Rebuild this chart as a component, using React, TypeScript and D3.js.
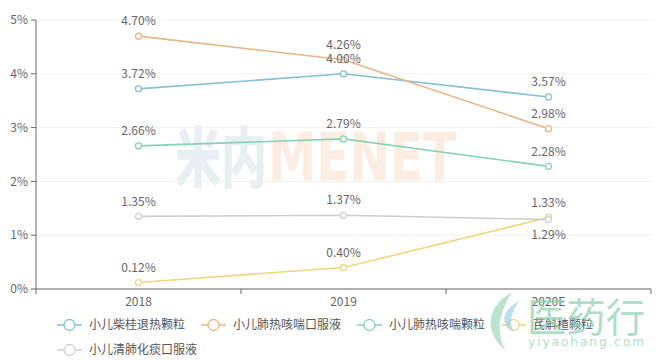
import React from "react";
import * as d3 from "d3";

const categories = ["2018", "2019", "2020E"];
const seriesNames = ["小儿柴桂退热颗粒", "小儿肺热咳喘口服液", "小儿肺热咳喘颗粒", "芪斛楂颗粒", "小儿清肺化痰口服液"];
const chaigui = [3.72, 4.0, 3.57];
const feireKoufu = [4.7, 4.26, 2.98];
const feireKeli = [2.66, 2.79, 2.28];
const qihuzha = [0.12, 0.4, 1.33];
const qingfei = [1.35, 1.37, 1.29];
const yTicks = [0, 1, 2, 3, 4, 5];

const colors = ["#86bfd8", "#e9b486", "#86d2b5", "#f0d67e", "#cfcfcf"];
// label placement: -1 above, 1 below (per point)
const labelPos = [
  [-1, -1, -1],
  [-1, -1, -1],
  [-1, -1, -1],
  [-1, -1, -1],
  [-1, -1, 1],
];

const W = 662;
const H = 360;
const FONT = "'Noto Sans CJK SC', 'Microsoft YaHei', sans-serif";

export default function App() {
  const allSeries = [chaigui, feireKoufu, feireKeli, qihuzha, qingfei];
  const left = 36;
  const right = 651;
  const top = 20;
  const bottom = 289;
  const x = d3.scaleBand<string>().domain(categories).range([left, right]);
  const y = d3.scaleLinear().domain([0, 5]).range([bottom, top]);
  const cx = (c: string) => (x(c) as number) + x.bandwidth() / 2;
  const line = d3
    .line<number>()
    .x((_, i) => cx(categories[i]))
    .y((d) => y(d));
  const boundaries = [left, ...categories.map((c) => (x(c) as number) + x.bandwidth())];

  // legend layout
  const legendRows = [
    [0, 1, 2, 3],
    [4],
  ];
  const legendStart = [57, 57];
  const charW = 12;
  const iconW = 25;
  const gapIconText = 7;
  const gapItems = 16;

  return (
    <svg width={W} height={H} style={{ position: "absolute", left: 0, top: 0, fontFamily: FONT }}>
      <rect width={W} height={H} fill="#ffffff" />
      {/* watermarks */}
      <text x={175} y={182} fontSize={66} fontWeight={900} fill="#e8eff3" textLength={92} lengthAdjust="spacingAndGlyphs">米内</text>
      <text x={268} y={180} fontSize={66} fontWeight={900} fill="#fcede2" textLength={188} lengthAdjust="spacingAndGlyphs" fontFamily="'DejaVu Sans', sans-serif">MENET</text>
      {/* grid */}
      {yTicks.map((t) => (
        <line key={"g" + t} x1={left} x2={right} y1={y(t)} y2={y(t)} stroke="#f0f0f0" strokeWidth={1} />
      ))}
      {/* y axis */}
      <line x1={left} x2={left} y1={top} y2={bottom} stroke="#666" strokeWidth={1} />
      {yTicks.map((t) => (
        <g key={"yt" + t}>
          <line x1={left - 5} x2={left} y1={y(t)} y2={y(t)} stroke="#666" />
          <text x={left - 8} y={y(t)} dy="0.35em" textAnchor="end" fontSize={12} fill="#666">
            {t + "%"}
          </text>
        </g>
      ))}
      {/* x axis */}
      <line x1={left} x2={right} y1={bottom} y2={bottom} stroke="#666" strokeWidth={1} />
      {boundaries.map((b, i) => (
        <line key={"xt" + i} x1={b} x2={b} y1={bottom} y2={bottom + 5} stroke="#666" />
      ))}
      {categories.map((c) => (
        <text key={"xl" + c} x={cx(c)} y={bottom + 13} dy="0.35em" textAnchor="middle" fontSize={12} fill="#666">
          {c}
        </text>
      ))}
      {/* lines */}
      {allSeries.map((s, si) => (
        <path key={"l" + si} d={line(s) || ""} fill="none" stroke={colors[si]} strokeWidth={1.6} />
      ))}
      {allSeries.map((s, si) =>
        s.map((v, i) => (
          <circle key={"c" + si + i} cx={cx(categories[i])} cy={y(v)} r={3} fill="#fff" stroke={colors[si]} strokeWidth={1.3} />
        ))
      )}
      {allSeries.map((s, si) =>
        s.map((v, i) => (
          <text
            key={"t" + si + i}
            x={cx(categories[i])}
            y={y(v) + (labelPos[si][i] < 0 ? -15 : 15)}
            dy="0.35em"
            textAnchor="middle"
            fontSize={12}
            fill="#666"
          >
            {v.toFixed(2) + "%"}
          </text>
        ))
      )}
      {/* legend */}
      {legendRows.map((row, ri) => {
        let cur = legendStart[ri];
        const cy = ri === 0 ? 325 : 350;
        return row.map((si) => {
          const x0 = cur;
          const tw = seriesNames[si].length * charW;
          cur = x0 + iconW + gapIconText + tw + gapItems;
          return (
            <g key={"lg" + si}>
              <line x1={x0} x2={x0 + iconW} y1={cy} y2={cy} stroke={colors[si]} strokeWidth={1.5} />
              <circle cx={x0 + iconW / 2} cy={cy} r={5.5} fill="#fff" stroke={colors[si]} strokeWidth={1.3} />
              <text x={x0 + iconW + gapIconText} y={cy} dy="0.35em" fontSize={12} fill="#555">
                {seriesNames[si]}
              </text>
            </g>
          );
        });
      })}
      {/* site watermark */}
      <path d="M 512 292 C 488 305, 482 330, 505 350 C 495 330, 500 312, 512 292 Z" fill="#8fd0ae" opacity={0.6} />
      <path d="M 520 300 C 500 312, 500 325, 514 332 C 508 322, 512 310, 520 300 Z" fill="#8cc6e6" opacity={0.6} />
      <text x={527} y={332} fontSize={40} fill="#8fd0ae" opacity={0.7} textLength={118} lengthAdjust="spacingAndGlyphs">医药行</text>
      <text x={528} y={346} fontSize={12} fill="#8fd0ae" opacity={0.7} textLength={116} lengthAdjust="spacing" fontFamily="'DejaVu Sans', sans-serif">yiyaohang.com</text>
    </svg>
  );
}
